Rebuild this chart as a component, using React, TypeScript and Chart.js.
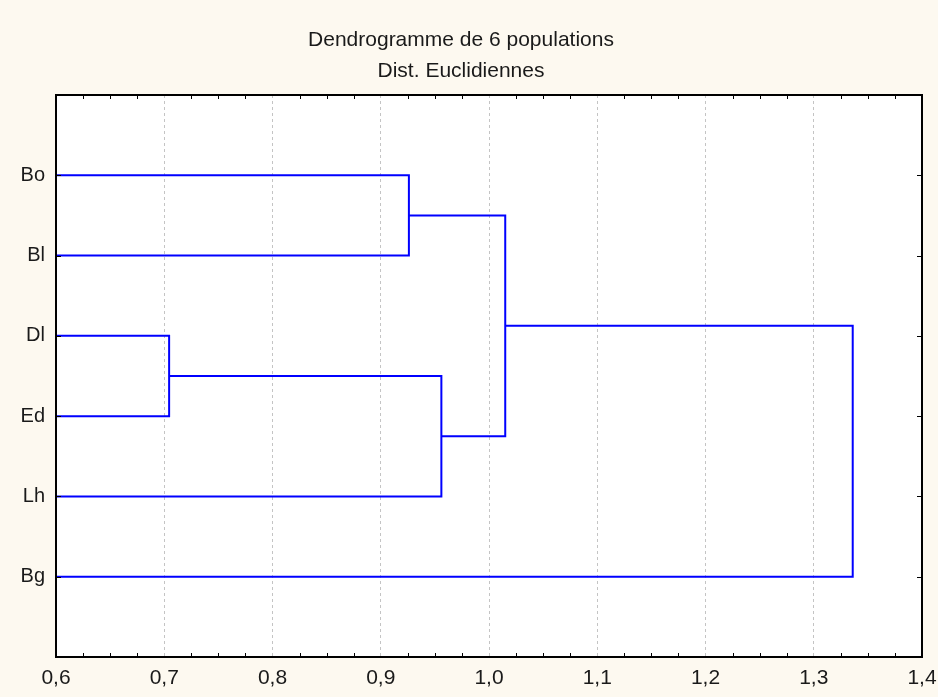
import React, { useEffect, useRef } from "react";
import { Chart, registerables } from "chart.js";

Chart.register(...registerables);

// ---- Data ----
const leafNames: string[] = ["Bo", "Bl", "Dl", "Ed", "Lh", "Bg"];
// merges: indices refer to leaves (0..5) or previous merges (6..)
const mergeLeft: number[] = [0, 2, 7, 6, 9];
const mergeRight: number[] = [1, 3, 4, 8, 5];
const mergeHeights: number[] = [0.926, 0.7045, 0.956, 1.015, 1.336];
const xTickValues: number[] = [0.6, 0.7, 0.8, 0.9, 1.0, 1.1, 1.2, 1.3, 1.4];
const titleLines: string[] = ["Dendrogramme de 6 populations", "Dist. Euclidiennes"];

const X_MIN = 0.6;
const X_MAX = 1.4;
const MINOR_STEP = 0.025;

function buildSegments() {
  const pos: number[] = leafNames.map((_, i) => i + 1);
  const hts: number[] = leafNames.map(() => X_MIN);
  const segs: { x: number; y: number }[][] = [];
  mergeHeights.forEach((h, k) => {
    const a = mergeLeft[k];
    const b = mergeRight[k];
    segs.push([
      { x: hts[a], y: pos[a] },
      { x: h, y: pos[a] },
      { x: h, y: pos[b] },
      { x: hts[b], y: pos[b] },
    ]);
    pos.push((pos[a] + pos[b]) / 2);
    hts.push(h);
  });
  return segs;
}

const FONT = "'Liberation Sans', Arial, sans-serif";

const framePlugin = {
  id: "frame",
  beforeDraw(chart: any) {
    const { ctx, chartArea } = chart;
    ctx.save();
    ctx.fillStyle = "#ffffff";
    ctx.fillRect(chartArea.left, chartArea.top, chartArea.right - chartArea.left, chartArea.bottom - chartArea.top);
    ctx.restore();
  },
  afterDatasetsDraw(chart: any) {
    const { ctx, chartArea, scales } = chart;
    const { left, right, top, bottom } = chartArea;
    ctx.save();
    ctx.strokeStyle = "#000000";
    ctx.lineWidth = 1;
    const n = Math.round((X_MAX - X_MIN) / MINOR_STEP);
    for (let i = 1; i < n; i++) {
      if (i % 4 === 0) continue;
      const px = Math.round(scales.x.getPixelForValue(X_MIN + i * MINOR_STEP)) + 0.5;
      ctx.beginPath();
      ctx.moveTo(px, top);
      ctx.lineTo(px, top + 4);
      ctx.moveTo(px, bottom);
      ctx.lineTo(px, bottom - 4);
      ctx.stroke();
    }
    leafNames.forEach((_, i) => {
      const py = Math.round(scales.y.getPixelForValue(i + 1)) + 0.5;
      ctx.beginPath();
      ctx.moveTo(right, py);
      ctx.lineTo(right - 5, py);
      ctx.moveTo(left, py);
      ctx.lineTo(left + 5, py);
      ctx.stroke();
    });
    ctx.lineWidth = 2;
    ctx.strokeRect(left, top, right - left, bottom - top);
    ctx.restore();
  },
};

export default function App() {
  const ref = useRef<HTMLCanvasElement | null>(null);
  useEffect(() => {
    if (!ref.current) return;
    const segs = buildSegments();
    const chart = new Chart(ref.current, {
      type: "scatter",
      data: {
        datasets: segs.map((s) => ({
          data: s,
          showLine: true,
          borderColor: "#0000ff",
          borderWidth: 2,
          pointRadius: 0,
          tension: 0,
          fill: false,
        })),
      },
      options: {
        animation: false,
        responsive: false,
        events: [],
        layout: { padding: { left: 0, right: 16, top: 0, bottom: 0 } },
        plugins: {
          legend: { display: false },
          tooltip: { enabled: false },
          title: {
            display: true,
            text: titleLines,
            color: "#1a1a1a",
            font: { family: FONT, size: 21, weight: "normal", lineHeight: 1.5 },
            padding: { top: 24, bottom: 8 },
          },
        },
        scales: {
          x: {
            type: "linear",
            min: X_MIN,
            max: X_MAX,
            afterBuildTicks: (scale: any) => {
              scale.ticks = xTickValues.map((v) => ({ value: v }));
            },
            afterFit: (scale: any) => {
              scale.height = 40;
              scale.paddingLeft = 0;
              scale.paddingRight = 0;
            },
            ticks: {
              color: "#1a1a1a",
              font: { family: FONT, size: 21 },
              padding: 9,
              maxRotation: 0,
              autoSkip: false,
              callback: (v: any) => Number(v).toFixed(1).replace(".", ","),
            },
            grid: {
              color: "#c4c4c4",
              lineWidth: 1,
              drawTicks: false,
              tickLength: 0,
            },
            border: { display: false, dash: [3, 3] },
          },
          y: {
            type: "linear",
            min: 0,
            max: leafNames.length + 1,
            reverse: true,
            afterBuildTicks: (scale: any) => {
              scale.ticks = leafNames.map((_, i) => ({ value: i + 1 }));
            },
            afterFit: (scale: any) => {
              scale.width = 56;
              scale.paddingTop = 0;
              scale.paddingBottom = 0;
            },
            ticks: {
              color: "#1a1a1a",
              font: { family: FONT, size: 20 },
              padding: 11,
              autoSkip: false,
              callback: (v: any) => leafNames[Math.round(Number(v)) - 1] ?? "",
            },
            grid: { display: false, drawTicks: false },
            border: { display: false },
          },
        },
      },
      plugins: [framePlugin],
    });
    return () => chart.destroy();
  }, []);
  return (
    <div
      style={{
        position: "absolute",
        left: 0,
        top: 0,
        width: 938,
        height: 697,
        background: "#fdf9f0",
      }}
    >
      <canvas ref={ref} width={938} height={697} style={{ display: "block" }} />
    </div>
  );
}
